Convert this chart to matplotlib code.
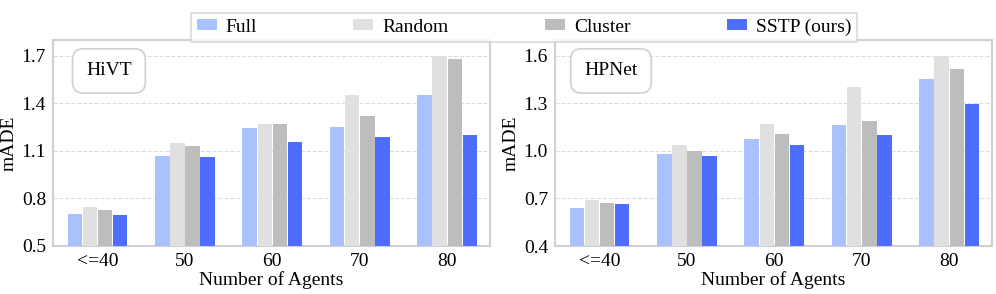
import numpy as np
import matplotlib
matplotlib.use("Agg")
import matplotlib.pyplot as plt

plt.rcParams['font.family'] = ['Liberation Serif', 'DejaVu Serif']

categories = ['<=40', '50', '60', '70', '80']
methods = ['Full', 'Random', 'Cluster', 'SSTP (ours)']
colors = ['#a9c1fd', '#e0e0e0', '#bdbdbd', '#4f6dfc']

# HiVT panel
hivt_full = [0.70, 1.067, 1.244, 1.248, 1.45]
hivt_random = [0.746, 1.147, 1.273, 1.45, 1.70]
hivt_cluster = [0.727, 1.128, 1.273, 1.32, 1.681]
hivt_sstp = [0.693, 1.063, 1.156, 1.191, 1.20]

# HPNet panel
hpnet_full = [0.64, 0.978, 1.075, 1.163, 1.455]
hpnet_random = [0.69, 1.037, 1.173, 1.405, 1.60]
hpnet_cluster = [0.671, 0.999, 1.104, 1.19, 1.52]
hpnet_sstp = [0.663, 0.965, 1.035, 1.10, 1.293]

panels = [
    ('HiVT', [hivt_full, hivt_random, hivt_cluster, hivt_sstp], (0.5, 1.8), [0.5, 0.8, 1.1, 1.4, 1.7]),
    ('HPNet', [hpnet_full, hpnet_random, hpnet_cluster, hpnet_sstp], (0.4, 1.7), [0.4, 0.7, 1.0, 1.3, 1.6]),
]

fig = plt.figure(figsize=(9.96, 2.94), dpi=100)
lefts = [53 / 996, 555 / 996]
w = 437 / 996
bottom = 1 - 246 / 294
h = 206 / 294

x = np.arange(len(categories))
bw = 0.165
handles = []
for i, (name, series, ylim, yticks) in enumerate(panels):
    ax = fig.add_axes([lefts[i], bottom, w, h])
    for j, vals in enumerate(series):
        b = ax.bar(x + (j - 1.5) * (bw + 0.008), vals, bw, color=colors[j],
                   label=methods[j], zorder=3)
        if i == 0:
            handles.append(b)
    ax.set_xlim(-0.51, 4.49)
    ax.set_ylim(*ylim)
    ax.set_yticks(yticks)
    ax.set_yticklabels([f'{t:.1f}' for t in yticks])
    ax.set_xticks(x)
    ax.set_xticklabels(categories)
    ax.tick_params(length=0, labelsize=14, pad=5)
    ax.grid(axis='y', color='#dddddd', linestyle='--', linewidth=0.8, zorder=0)
    for s in ax.spines.values():
        s.set_color('#d0d0d0')
        s.set_linewidth(1.5)
    ax.set_xlabel('Number of Agents', fontsize=14, labelpad=1)
    ax.set_ylabel('mADE', fontsize=14, labelpad=3)
    ax.text(0.128, 0.85, name, transform=ax.transAxes, fontsize=14,
            ha='center', va='center',
            bbox=dict(boxstyle='round,pad=0.7,rounding_size=0.55', fc='white',
                      ec='#d0d0d0', lw=1.2), zorder=5)

leg = fig.legend(handles=handles, labels=methods, loc='upper center',
                 bbox_to_anchor=(524 / 996, 0.99), ncol=4, fontsize=14,
                 frameon=True, fancybox=False, edgecolor='#d0d0d0',
                 handlelength=1.03, handleheight=0.5, columnspacing=4.95,
                 borderpad=0.3, handletextpad=0.46)
leg.get_frame().set_linewidth(1.2)

fig.savefig('out.png', dpi=100)
